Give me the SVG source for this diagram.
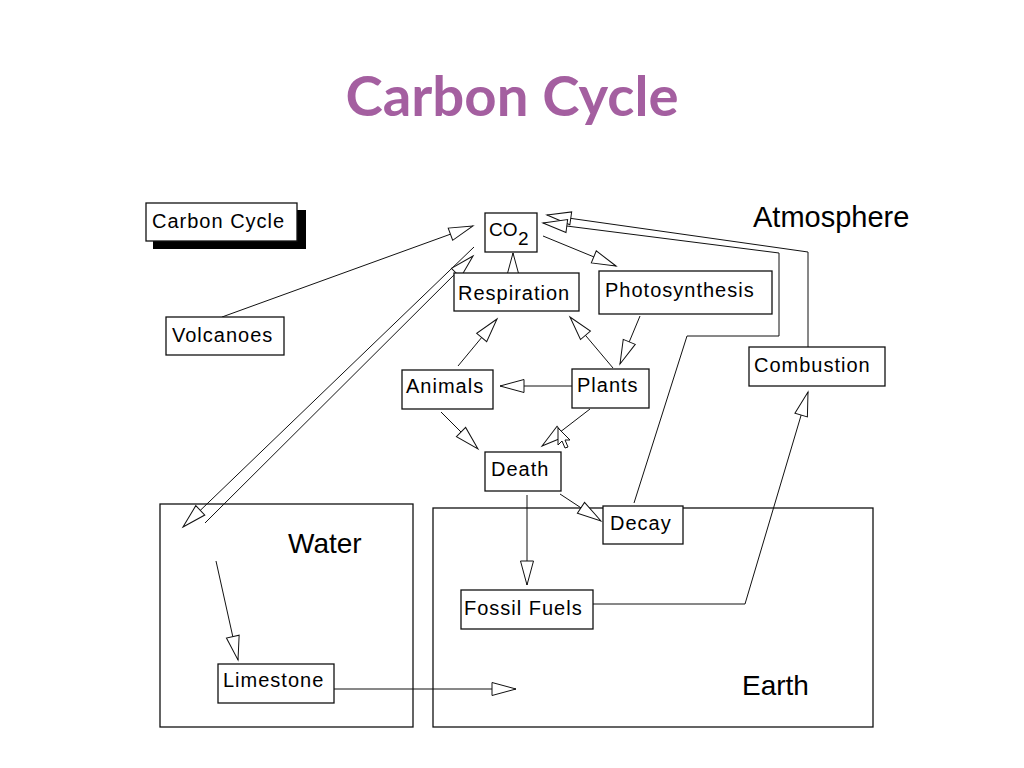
<svg xmlns="http://www.w3.org/2000/svg" width="1024" height="768" viewBox="0 0 1024 768">
<style>
.box{fill:#fff;stroke:#111;stroke-width:1.3}
.lbl{font-family:"Liberation Sans",Arial,sans-serif;font-size:20px;letter-spacing:1px;fill:#000}
.big{font-family:"Liberation Sans",Arial,sans-serif;font-size:28px;fill:#000}
.con{fill:none;stroke:#111;stroke-width:1;marker-end:url(#ah)}
.title{font-family:Lato,"Open Sans",sans-serif;font-weight:bold;font-size:56px;fill:#A45FA0}
</style>
<defs>
<marker id="ah" markerUnits="userSpaceOnUse" markerWidth="30" markerHeight="18" viewBox="-27 -9 30 18" refX="0" refY="0" orient="auto" overflow="visible">
<path d="M0,0 L-24,-6.5 L-24,6.5 Z" fill="#fff" stroke="#111" stroke-width="1"/>
</marker>
</defs>
<rect width="1024" height="768" fill="#fff"/>
<text class="title" x="512" y="116" text-anchor="middle" textLength="333" lengthAdjust="spacingAndGlyphs">Carbon Cycle</text>

<g id="water">
<rect class="box" x="160" y="504" width="253" height="223"/>
<text class="big" x="288" y="553">Water</text>
</g>
<g id="earth">
<rect class="box" x="433" y="508" width="440" height="219"/>
<text class="big" x="742" y="695">Earth</text>
</g>
<g id="atmosphere">
<text class="big" x="753" y="227" style="font-size:29px">Atmosphere</text>
</g>

<g id="connectors">
<path class="con" d="M222,317 L473,226"/>
<path class="con" d="M474,247 L183,527"/>
<path class="con" d="M205,523 L473,256"/>
<path class="con" d="M513,274 L513,253"/>
<path class="con" d="M543,236 L616,266"/>
<path class="con" d="M808,347 L808,252 L547,215"/>
<path class="con" d="M634,503 L687,336 L779,336 L779,253 L543,223"/>
<path class="con" d="M613,368 L570,317"/>
<path class="con" d="M640,316 L620,364"/>
<path class="con" d="M458,366 L497,319"/>
<path class="con" d="M572,386 L500,386"/>
<path class="con" d="M441,412 L478,449"/>
<path class="con" d="M590,409 L542,446"/>
<path class="con" d="M560,494 L601,521"/>
<path class="con" d="M527,495 L527,585"/>
<path class="con" d="M587,604 L745,604 L808,392"/>
<path class="con" d="M216,561 L238,660"/>
<path class="con" d="M331,689 L516,689"/>
</g>

<g id="cursor">
<polygon points="558,428 558,445 562,441 565,448 568,447 565,440 570,440" fill="#fff" stroke="#111" stroke-width="1"/>
</g>

<g id="carbon-cycle-label">
<rect x="153" y="210" width="153" height="39" fill="#000"/>
<rect class="box" x="146" y="203" width="151" height="38"/>
<text class="lbl" x="152" y="228">Carbon Cycle</text>
</g>
<g id="volcanoes">
<rect class="box" x="166" y="317" width="118" height="38"/>
<text class="lbl" x="172" y="342">Volcanoes</text>
</g>
<g id="co2">
<rect class="box" x="485" y="213" width="52" height="39"/>
<text class="lbl" x="489" y="236" style="font-size:19px;letter-spacing:0">CO</text>
<text class="lbl" x="518" y="245" style="font-size:19px;letter-spacing:0">2</text>
</g>
<g id="respiration">
<rect class="box" x="454" y="273" width="125" height="38"/>
<text class="lbl" x="458" y="300">Respiration</text>
</g>
<g id="photosynthesis">
<rect class="box" x="599" y="271" width="173" height="43"/>
<text class="lbl" x="605" y="297">Photosynthesis</text>
</g>
<g id="animals">
<rect class="box" x="402" y="370" width="91" height="39"/>
<text class="lbl" x="406" y="393">Animals</text>
</g>
<g id="plants">
<rect class="box" x="572" y="369" width="77" height="39"/>
<text class="lbl" x="577" y="392">Plants</text>
</g>
<g id="death">
<rect class="box" x="485" y="452" width="76" height="39"/>
<text class="lbl" x="491" y="476">Death</text>
</g>
<g id="decay">
<rect class="box" x="603" y="506" width="80" height="38"/>
<text class="lbl" x="610" y="530">Decay</text>
</g>
<g id="fossil-fuels">
<rect class="box" x="461" y="590" width="132" height="39"/>
<text class="lbl" x="464" y="615">Fossil Fuels</text>
</g>
<g id="combustion">
<rect class="box" x="749" y="347" width="136" height="39"/>
<text class="lbl" x="754" y="372">Combustion</text>
</g>
<g id="limestone">
<rect class="box" x="218" y="664" width="116" height="39"/>
<text class="lbl" x="223" y="687">Limestone</text>
</g>
</svg>
